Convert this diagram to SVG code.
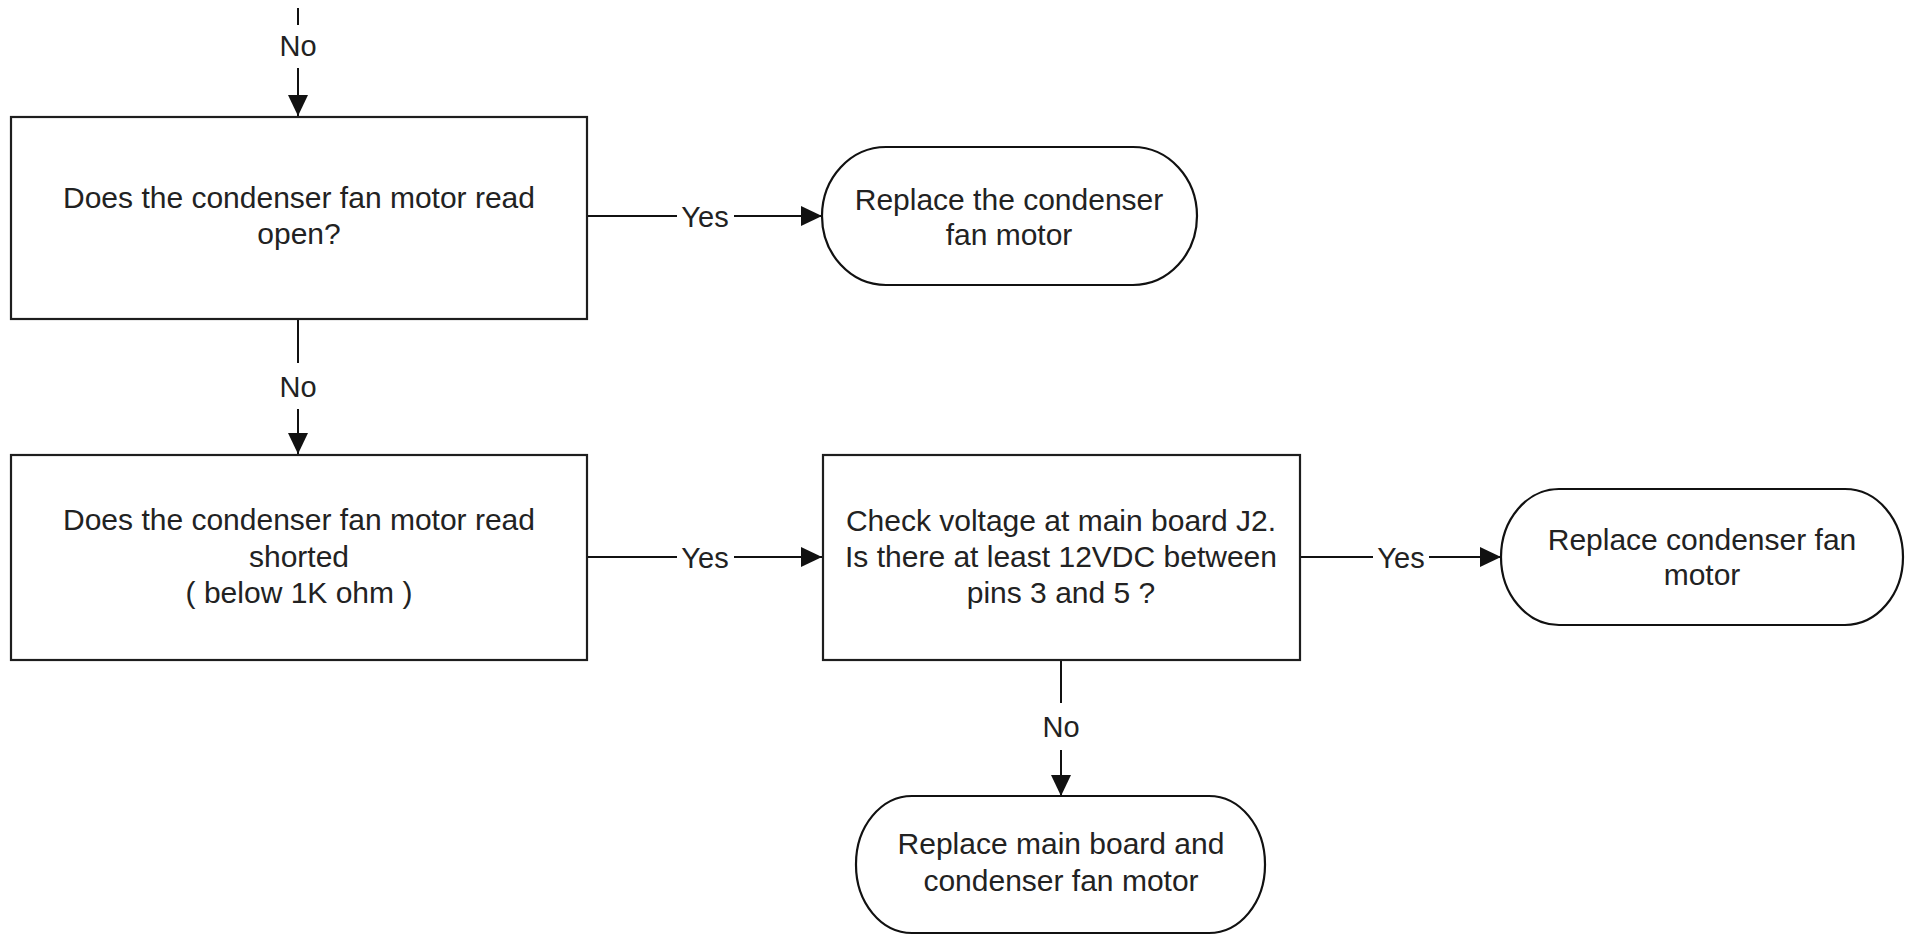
<svg xmlns="http://www.w3.org/2000/svg" width="1907" height="935" viewBox="0 0 1907 935">
  <style>
    .box { fill: #ffffff; stroke: #1e1e1e; stroke-width: 2.2; }
    .end { fill: #ffffff; stroke: #111111; stroke-width: 2.2; }
    .txt { font-family: "Liberation Sans", Arial, sans-serif; font-size: 30px; fill: #222222; text-anchor: middle; }
    .lbl { font-family: "Liberation Sans", Arial, sans-serif; font-size: 29px; fill: #222222; text-anchor: middle; }
    .wire { fill: none; stroke: #111111; stroke-width: 2; }
    .gap { fill: #ffffff; stroke: none; }
  </style>
  <defs>
    <marker id="arrow" markerUnits="userSpaceOnUse" markerWidth="21" markerHeight="20" refX="21" refY="10" orient="auto">
      <path d="M0,0 L21,10 L0,20 Z" fill="#111111"/>
    </marker>
  </defs>

  <rect width="1907" height="935" fill="#ffffff"/>

  <!-- connectors -->
  <g id="connectors">
    <path class="wire" d="M298,8 V116" marker-end="url(#arrow)"/>
    <rect class="gap" x="276" y="25" width="44" height="43"/>
    <text class="lbl" x="298" y="56">No</text>

    <path class="wire" d="M587,216 H822" marker-end="url(#arrow)"/>
    <rect class="gap" x="677" y="200" width="57" height="32"/>
    <text class="lbl" x="705" y="227">Yes</text>

    <path class="wire" d="M298,319 V454" marker-end="url(#arrow)"/>
    <rect class="gap" x="276" y="363" width="44" height="46"/>
    <text class="lbl" x="298" y="397">No</text>

    <path class="wire" d="M587,557 H822" marker-end="url(#arrow)"/>
    <rect class="gap" x="677" y="541" width="57" height="32"/>
    <text class="lbl" x="705" y="568">Yes</text>

    <path class="wire" d="M1300,557 H1501" marker-end="url(#arrow)"/>
    <rect class="gap" x="1373" y="541" width="56" height="32"/>
    <text class="lbl" x="1401" y="568">Yes</text>

    <path class="wire" d="M1061,660 V796" marker-end="url(#arrow)"/>
    <rect class="gap" x="1039" y="703" width="44" height="47"/>
    <text class="lbl" x="1061" y="737">No</text>
  </g>

  <!-- decision: open winding -->
  <g id="check-open">
    <rect class="box" x="11" y="117" width="576" height="202"/>
    <text class="txt" x="299" y="208">Does the condenser fan motor read</text>
    <text class="txt" x="299" y="244">open?</text>
  </g>

  <!-- result: replace motor (open) -->
  <g id="replace-motor-open">
    <rect class="end" x="822" y="147" width="375" height="138" rx="64" ry="69"/>
    <text class="txt" x="1009" y="210">Replace the condenser</text>
    <text class="txt" x="1009" y="245">fan motor</text>
  </g>

  <!-- decision: shorted winding -->
  <g id="check-shorted">
    <rect class="box" x="11" y="455" width="576" height="205"/>
    <text class="txt" x="299" y="530">Does the condenser fan motor read</text>
    <text class="txt" x="299" y="567">shorted</text>
    <text class="txt" x="299" y="603">( below 1K ohm )</text>
  </g>

  <!-- decision: supply voltage at J2 -->
  <g id="check-voltage">
    <rect class="box" x="823" y="455" width="477" height="205"/>
    <text class="txt" x="1061" y="531">Check voltage at main board J2.</text>
    <text class="txt" x="1061" y="567">Is there at least 12VDC between</text>
    <text class="txt" x="1061" y="603">pins 3 and 5 ?</text>
  </g>

  <!-- result: replace motor (voltage present) -->
  <g id="replace-motor">
    <rect class="end" x="1501" y="489" width="402" height="136" rx="58" ry="68"/>
    <text class="txt" x="1702" y="550">Replace condenser fan</text>
    <text class="txt" x="1702" y="585">motor</text>
  </g>

  <!-- result: replace board and motor -->
  <g id="replace-board-and-motor">
    <rect class="end" x="856" y="796" width="409" height="137" rx="56" ry="68"/>
    <text class="txt" x="1061" y="854">Replace main board and</text>
    <text class="txt" x="1061" y="891">condenser fan motor</text>
  </g>
</svg>
